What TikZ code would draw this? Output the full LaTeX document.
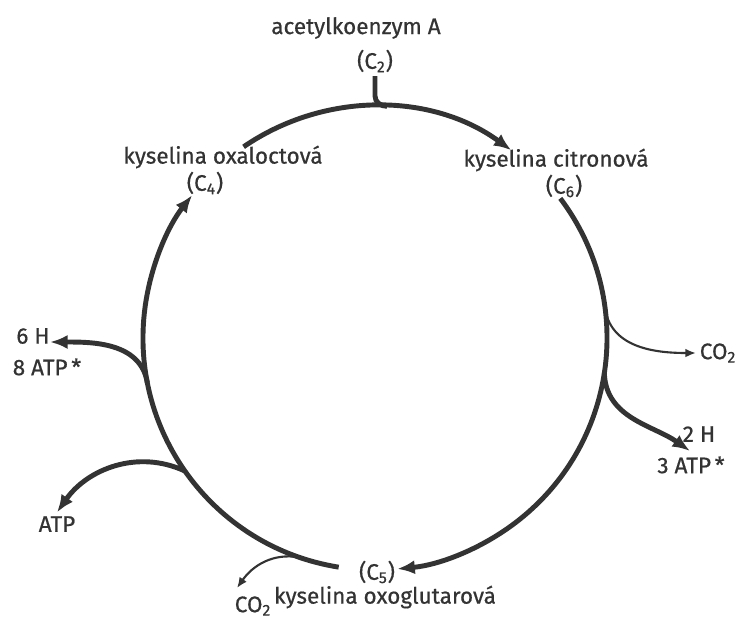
\documentclass[tikz,border=0pt]{standalone}
\usepackage{fontspec}
\setmainfont{Fira Sans}[FakeBold=0.6]
\usetikzlibrary{arrows.meta,calc}

\begin{document}
\begin{tikzpicture}[
  font=\fontsize{12.8}{15}\selectfont,
  >=Latex,
  txt/.style={text=black!80, inner sep=2pt},
  mainline/.style={draw=black!80, line width=2.8pt},
  mainarrow/.style={mainline, -{Latex[length=10pt,width=8pt]}},
  sidearrow/.style={draw=black!80, line width=1.2pt, -{Latex[length=6pt,width=5pt]}}
]
  \useasboundingbox (0,0) rectangle (14.82,12.46);
  \coordinate (c) at (7.5,5.7);

  % labels
  \node[txt] (acetyl) at (7.12,11.90) {acetylkoenzym A};
  \node[txt] (c2) at (7.50,11.24) {(C\textsubscript{2})};
  \node[txt] (oxal) at (4.46,9.32) {kyselina oxaloctová};
  \node[txt] (c4) at (4.10,8.80) {(C\textsubscript{4})};
  \node[txt] (citr) at (11.12,9.26) {kyselina citronová};
  \node[txt] (c6) at (11.28,8.74) {(C\textsubscript{6})};
  \node[txt] (c5) at (7.54,1.02) {(C\textsubscript{5})};
  \node[txt] (oxog) at (7.70,0.52) {kyselina oxoglutarová};
  \node[txt] (co2b) at (5.06,0.34) {CO\textsubscript{2}};
  \node[txt] (co2r) at (14.36,5.40) {CO\textsubscript{2}};
  \node[txt] (h2) at (13.98,3.78) {2 H};
  \node[txt] (atp3) at (13.82,3.16) {3 ATP\,*};
  \node[txt] (h6) at (0.66,5.74) {6 H};
  \node[txt] (atp8) at (0.94,5.12) {8 ATP\,*};
  \node[txt] (atp) at (1.14,1.98) {ATP};

  % branch points on the cycle
  \coordinate (jacetyl) at ($(c)+(87:4.64)$);
  \coordinate (jco2r) at ($(c)+(7:4.64)$);
  \coordinate (jh2) at ($(c)+(-8.7:4.64)$);
  \coordinate (jco2b) at ($(c)+(251:4.64)$);
  \coordinate (jatp) at ($(c)+(215:4.64)$);
  \coordinate (jh6) at ($(c)+(191:4.64)$);
  \coordinate (tiph2) at (13.80,3.44);
  \coordinate (tiph6) at (1.00,5.62);
  \coordinate (tipco2b) at (4.74,0.70);

  % cycle
  \draw[mainarrow] ($(c)+(124.5:4.64)$) arc[start angle=124.5, end angle=54, radius=4.64];
  \draw[mainarrow] ($(c)+(37:4.64)$) arc[start angle=37, end angle=-84.5, radius=4.64];
  \draw[mainarrow] ($(c)+(261:4.64)$) arc[start angle=261, end angle=142, radius=4.64];

  \draw[mainline] (c2.south) -- ++(0,-0.4) to[out=-90,in=180] (jacetyl);
  \draw[sidearrow] (jco2r) to[out=-80,in=180] (co2r.west);
  \draw[mainarrow] (jh2) to[out=-88,in=145] (tiph2);
  \draw[mainarrow] (jh6) to[out=100,in=0] (tiph6);
  \draw[mainarrow] (jatp) to[out=155,in=55] (atp.north);
  \draw[sidearrow] (jco2b) to[out=170,in=55] (tipco2b);
\end{tikzpicture}
\end{document}
